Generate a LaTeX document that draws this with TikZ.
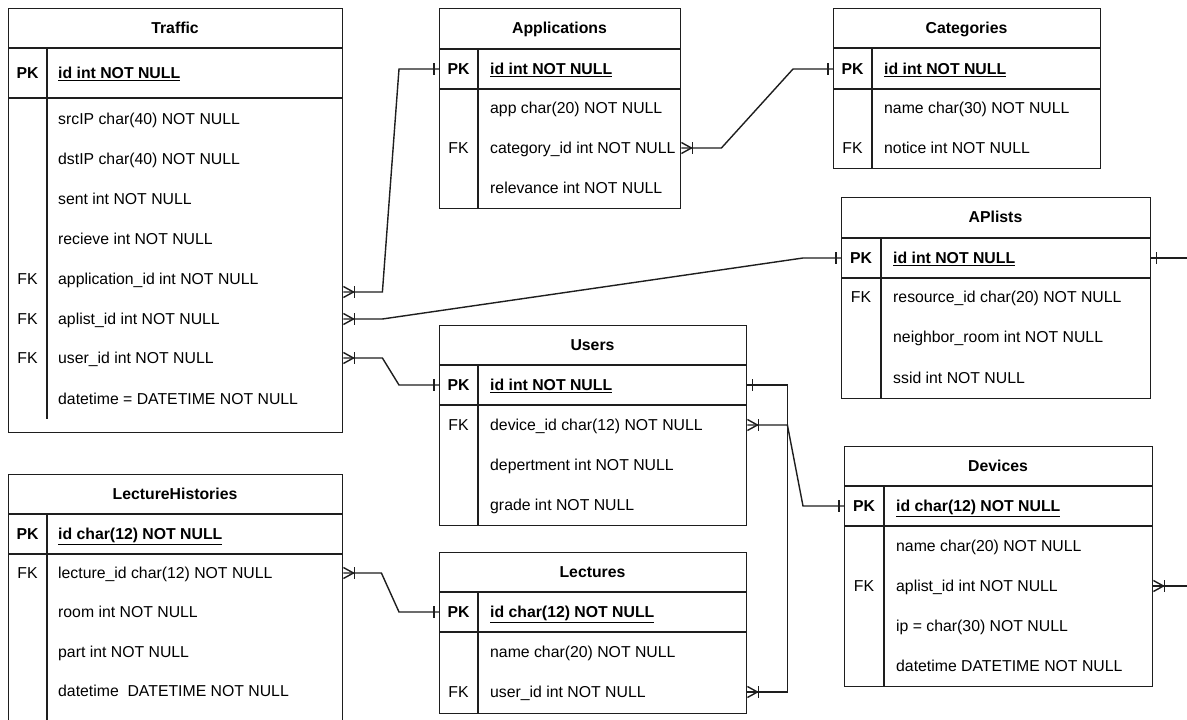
\documentclass[tikz,border=0pt]{standalone}
\usepackage{fontspec}
\setmainfont{Liberation Sans}
\usepackage{tikz}
\usetikzlibrary{positioning}
\definecolor{cline}{HTML}{1E1E1E}
\newcommand{\erfont}{\fontsize{15.8}{18}\selectfont}
\tikzset{
  tbl/.style={draw=cline, line width=1.4pt, anchor=north west, inner sep=0pt},
  rule/.style={draw=cline, line width=1.4pt},
  rel/.style={draw=cline, line width=1.4pt},
  txt/.style={inner sep=0pt, text height=11.3pt, text depth=0pt, font=\erfont},
  ttl/.style={txt, font=\erfont\bfseries},
  keyl/.style={txt},
  pkl/.style={txt, font=\erfont\bfseries},
  fld/.style={txt, anchor=west},
  pkf/.style={fld, font=\erfont\bfseries},
  one/.pic={\draw[rel] (-5,-6) -- (-5,6);},
  many/.pic={\draw[rel] (0,-5.5) -- (-10,0) -- (0,5.5); \draw[rel] (-11,-6) -- (-11,6);},
}

\begin{document}
\begin{tikzpicture}[x=1pt,y=-1pt]
\clip (0,0) rectangle (1187,720);
\fill[white] (0,0) rectangle (1187,720);
% Traffic
\node[tbl, minimum width=334pt, minimum height=424pt] (traffic) at (8,8) {};
\draw[rule] (traffic.north west) ++(0,40) -- ++(334,0);
\draw[rule] (traffic.north west) ++(0,90) -- ++(334,0);
\draw[rule] (traffic.north west) ++(39,40) -- ++(0,371);
\node[ttl] (tr-ttl) at (175,28) {Traffic};
\node[pkl] (tr-pk) at (27.5,73) {PK};
\node[pkf] (tr-id) at (58,73) {\underline{id int NOT NULL}};
\node[fld] (tr-src) at (58,119) {srcIP char(40) NOT NULL};
\node[fld] (tr-dst) at (58,159) {dstIP char(40) NOT NULL};
\node[fld] (tr-sent) at (58,199) {sent int NOT NULL};
\node[fld] (tr-recv) at (58,239) {recieve int NOT NULL};
\node[keyl] at (27.5,279) {FK};
\node[fld] (tr-app) at (58,279) {application\_id int NOT NULL};
\node[keyl] at (27.5,319) {FK};
\node[fld] (tr-apl) at (58,319) {aplist\_id int NOT NULL};
\node[keyl] at (27.5,358) {FK};
\node[fld] (tr-user) at (58,358) {user\_id int NOT NULL};
\node[fld] (tr-date) at (58,399) {datetime = DATETIME NOT NULL};
% Applications
\node[tbl, minimum width=241pt, minimum height=200pt] (apps) at (439,8) {};
\draw[rule] (apps.north west) ++(0,41) -- ++(241,0);
\draw[rule] (apps.north west) ++(0,81) -- ++(241,0);
\draw[rule] (apps.north west) ++(39,41) -- ++(0,159);
\node[ttl] (ap-ttl) at (559.5,28) {Applications};
\node[pkl] (ap-pk) at (458.5,69) {PK};
\node[pkf] (ap-id) at (490,69) {\underline{id int NOT NULL}};
\node[fld] (ap-app) at (490,108) {app char(20) NOT NULL};
\node[keyl] at (458.5,148) {FK};
\node[fld] (ap-cat) at (490,148) {category\_id int NOT NULL};
\node[fld] (ap-rel) at (490,188) {relevance int NOT NULL};
% Categories
\node[tbl, minimum width=267pt, minimum height=160pt] (cats) at (833,8) {};
\draw[rule] (cats.north west) ++(0,40) -- ++(267,0);
\draw[rule] (cats.north west) ++(0,81) -- ++(267,0);
\draw[rule] (cats.north west) ++(39,40) -- ++(0,120);
\node[ttl] (ca-ttl) at (966.5,28) {Categories};
\node[pkl] (ca-pk) at (852.5,69) {PK};
\node[pkf] (ca-id) at (884,69) {\underline{id int NOT NULL}};
\node[fld] (ca-name) at (884,108) {name char(30) NOT NULL};
\node[keyl] at (852.5,148) {FK};
\node[fld] (ca-note) at (884,148) {notice int NOT NULL};
% APlists
\node[tbl, minimum width=309pt, minimum height=201pt] (aplists) at (841,197) {};
\draw[rule] (aplists.north west) ++(0,41) -- ++(309,0);
\draw[rule] (aplists.north west) ++(0,81) -- ++(309,0);
\draw[rule] (aplists.north west) ++(40,41) -- ++(0,160);
\node[ttl] (al-ttl) at (995.5,217) {APlists};
\node[pkl] (al-pk) at (861,258) {PK};
\node[pkf] (al-id) at (893,258) {\underline{id int NOT NULL}};
\node[keyl] at (861,297) {FK};
\node[fld] (al-res) at (893,297) {resource\_id char(20) NOT NULL};
\node[fld] (al-nbr) at (893,337) {neighbor\_room int NOT NULL};
\node[fld] (al-ssid) at (893,378) {ssid int NOT NULL};
% Users
\node[tbl, minimum width=307pt, minimum height=200pt] (users) at (439,325) {};
\draw[rule] (users.north west) ++(0,40) -- ++(307,0);
\draw[rule] (users.north west) ++(0,80) -- ++(307,0);
\draw[rule] (users.north west) ++(39,40) -- ++(0,160);
\node[ttl] (us-ttl) at (592.5,345) {Users};
\node[pkl] (us-pk) at (458.5,385) {PK};
\node[pkf] (us-id) at (490,385) {\underline{id int NOT NULL}};
\node[keyl] at (458.5,425) {FK};
\node[fld] (us-dev) at (490,425) {device\_id char(12) NOT NULL};
\node[fld] (us-dep) at (490,465) {depertment int NOT NULL};
\node[fld] (us-grd) at (490,505) {grade int NOT NULL};
% Lectures
\node[tbl, minimum width=307pt, minimum height=161pt] (lectures) at (439,552) {};
\draw[rule] (lectures.north west) ++(0,40) -- ++(307,0);
\draw[rule] (lectures.north west) ++(0,80) -- ++(307,0);
\draw[rule] (lectures.north west) ++(39,40) -- ++(0,121);
\node[ttl] (le-ttl) at (592.5,572) {Lectures};
\node[pkl] (le-pk) at (458.5,612) {PK};
\node[pkf] (le-id) at (490,612) {\underline{id char(12) NOT NULL}};
\node[fld] (le-name) at (490,652) {name char(20) NOT NULL};
\node[keyl] at (458.5,692) {FK};
\node[fld] (le-user) at (490,692) {user\_id int NOT NULL};
% LectureHistories
\node[tbl, minimum width=334pt, minimum height=260pt] (lhist) at (8,474) {};
\draw[rule] (lhist.north west) ++(0,40) -- ++(334,0);
\draw[rule] (lhist.north west) ++(0,80) -- ++(334,0);
\draw[rule] (lhist.north west) ++(39,40) -- ++(0,220);
\node[ttl] (lh-ttl) at (175,494) {LectureHistories};
\node[pkl] (lh-pk) at (27.5,534) {PK};
\node[pkf] (lh-id) at (58,534) {\underline{id char(12) NOT NULL}};
\node[keyl] at (27.5,573) {FK};
\node[fld] (lh-lec) at (58,573) {lecture\_id char(12) NOT NULL};
\node[fld] (lh-room) at (58,612) {room int NOT NULL};
\node[fld] (lh-part) at (58,652) {part int NOT NULL};
\node[fld] (lh-date) at (58,691) {datetime\ \ DATETIME NOT NULL};
% Devices
\node[tbl, minimum width=308pt, minimum height=240pt] (devices) at (844,446) {};
\draw[rule] (devices.north west) ++(0,40) -- ++(308,0);
\draw[rule] (devices.north west) ++(0,80) -- ++(308,0);
\draw[rule] (devices.north west) ++(40,40) -- ++(0,200);
\node[ttl] (dv-ttl) at (998,466) {Devices};
\node[pkl] (dv-pk) at (864,506) {PK};
\node[pkf] (dv-id) at (896,506) {\underline{id char(12) NOT NULL}};
\node[fld] (dv-name) at (896,546) {name char(20) NOT NULL};
\node[keyl] at (864,586) {FK};
\node[fld] (dv-apl) at (896,586) {aplist\_id int NOT NULL};
\node[fld] (dv-ip) at (896,626) {ip = char(30) NOT NULL};
\node[fld] (dv-date) at (896,666) {datetime DATETIME NOT NULL};
% relations
\draw[rel] ([yshift=-13pt]traffic.east |- tr-app) pic[xscale=-1]{many} -- ++(39,0)
  -- ([xshift=-40pt]apps.west |- ap-id) -- (apps.west |- ap-id) pic{one};
\draw[rel] (apps.east |- ap-cat) pic[xscale=-1]{many} -- ++(40,0)
  -- ([xshift=-40pt]cats.west |- ca-id) -- (cats.west |- ca-id) pic{one};
\draw[rel] (traffic.east |- tr-apl) pic[xscale=-1]{many} -- ++(39,0)
  -- ([xshift=-38pt]aplists.west |- al-id) -- (aplists.west |- al-id) pic{one};
\draw[rel] (traffic.east |- tr-user) pic[xscale=-1]{many} -- ++(39,0)
  -- ([xshift=-40pt]users.west |- us-id) -- (users.west |- us-id) pic{one};
\draw[rel] (users.east |- us-id) pic[xscale=-1]{one} -- ++(40,0)
  |- (lectures.east |- le-user) pic[xscale=-1]{many};
\draw[rel] (users.east |- us-dev) pic[xscale=-1]{many} -- ++(40,0)
  -- ([xshift=-41pt]devices.west |- dv-id) -- (devices.west |- dv-id) pic{one};
\draw[rel] (lhist.east |- lh-lec) pic[xscale=-1]{many} -- ++(38,0)
  -- ([xshift=-40pt]lectures.west |- le-id) -- (lectures.west |- le-id) pic{one};
\draw[rel] (aplists.east |- al-id) pic[xscale=-1]{one} -- ++(60,0)
  |- (devices.east |- dv-apl) pic[xscale=-1]{many};
\end{tikzpicture}
\end{document}
